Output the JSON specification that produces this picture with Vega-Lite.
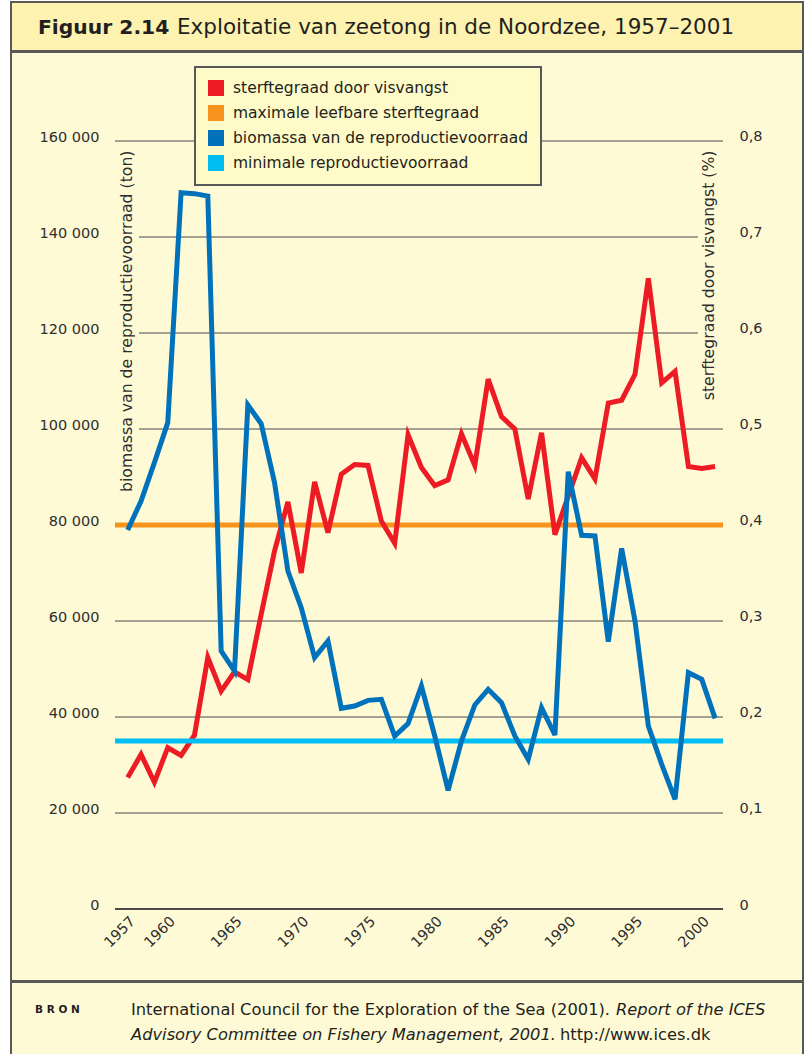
{
  "$schema": "https://vega.github.io/schema/vega-lite/v6.json",
  "background": "#ffffff",
  "padding": {"left": 10, "top": 1, "right": 3, "bottom": 0},
  "spacing": -2,
  "config": {
    "font": "DejaVu Sans",
    "view": {"stroke": null},
    "legend": {"strokeWidth": 2}
  },
  "datasets": {
    "sterfte": [
      {"jaar": 1957, "sterftegraad": 0.137}, {"jaar": 1958, "sterftegraad": 0.161}, {"jaar": 1959, "sterftegraad": 0.132},
      {"jaar": 1960, "sterftegraad": 0.168}, {"jaar": 1961, "sterftegraad": 0.160}, {"jaar": 1962, "sterftegraad": 0.181},
      {"jaar": 1963, "sterftegraad": 0.262}, {"jaar": 1964, "sterftegraad": 0.227}, {"jaar": 1965, "sterftegraad": 0.247},
      {"jaar": 1966, "sterftegraad": 0.239}, {"jaar": 1967, "sterftegraad": 0.307}, {"jaar": 1968, "sterftegraad": 0.373},
      {"jaar": 1969, "sterftegraad": 0.424}, {"jaar": 1970, "sterftegraad": 0.350}, {"jaar": 1971, "sterftegraad": 0.445},
      {"jaar": 1972, "sterftegraad": 0.392}, {"jaar": 1973, "sterftegraad": 0.453}, {"jaar": 1974, "sterftegraad": 0.463},
      {"jaar": 1975, "sterftegraad": 0.462}, {"jaar": 1976, "sterftegraad": 0.404}, {"jaar": 1977, "sterftegraad": 0.381},
      {"jaar": 1978, "sterftegraad": 0.494}, {"jaar": 1979, "sterftegraad": 0.460}, {"jaar": 1980, "sterftegraad": 0.441},
      {"jaar": 1981, "sterftegraad": 0.447}, {"jaar": 1982, "sterftegraad": 0.495}, {"jaar": 1983, "sterftegraad": 0.462},
      {"jaar": 1984, "sterftegraad": 0.552}, {"jaar": 1985, "sterftegraad": 0.513}, {"jaar": 1986, "sterftegraad": 0.500},
      {"jaar": 1987, "sterftegraad": 0.427}, {"jaar": 1988, "sterftegraad": 0.496}, {"jaar": 1989, "sterftegraad": 0.390},
      {"jaar": 1990, "sterftegraad": 0.430}, {"jaar": 1991, "sterftegraad": 0.470}, {"jaar": 1992, "sterftegraad": 0.448},
      {"jaar": 1993, "sterftegraad": 0.527}, {"jaar": 1994, "sterftegraad": 0.530}, {"jaar": 1995, "sterftegraad": 0.557},
      {"jaar": 1996, "sterftegraad": 0.657}, {"jaar": 1997, "sterftegraad": 0.548}, {"jaar": 1998, "sterftegraad": 0.560},
      {"jaar": 1999, "sterftegraad": 0.461}, {"jaar": 2000, "sterftegraad": 0.459}, {"jaar": 2001, "sterftegraad": 0.461}
    ],
    "biomassa": [
      {"jaar": 1957, "biomassa": 78960}, {"jaar": 1958, "biomassa": 85000}, {"jaar": 1959, "biomassa": 92990},
      {"jaar": 1960, "biomassa": 101320}, {"jaar": 1961, "biomassa": 149240}, {"jaar": 1962, "biomassa": 149030},
      {"jaar": 1963, "biomassa": 148540}, {"jaar": 1964, "biomassa": 53750}, {"jaar": 1965, "biomassa": 49580},
      {"jaar": 1966, "biomassa": 105000}, {"jaar": 1967, "biomassa": 101110}, {"jaar": 1968, "biomassa": 88820},
      {"jaar": 1969, "biomassa": 70420}, {"jaar": 1970, "biomassa": 62780}, {"jaar": 1971, "biomassa": 52360},
      {"jaar": 1972, "biomassa": 55830}, {"jaar": 1973, "biomassa": 41810}, {"jaar": 1974, "biomassa": 42290},
      {"jaar": 1975, "biomassa": 43470}, {"jaar": 1976, "biomassa": 43680}, {"jaar": 1977, "biomassa": 36040},
      {"jaar": 1978, "biomassa": 38610}, {"jaar": 1979, "biomassa": 46460}, {"jaar": 1980, "biomassa": 36040},
      {"jaar": 1981, "biomassa": 24720}, {"jaar": 1982, "biomassa": 35000}, {"jaar": 1983, "biomassa": 42500},
      {"jaar": 1984, "biomassa": 45760}, {"jaar": 1985, "biomassa": 42990}, {"jaar": 1986, "biomassa": 36040},
      {"jaar": 1987, "biomassa": 31180}, {"jaar": 1988, "biomassa": 41940}, {"jaar": 1989, "biomassa": 36250},
      {"jaar": 1990, "biomassa": 91110}, {"jaar": 1991, "biomassa": 77850}, {"jaar": 1992, "biomassa": 77710},
      {"jaar": 1993, "biomassa": 55690}, {"jaar": 1994, "biomassa": 75140}, {"jaar": 1995, "biomassa": 60000},
      {"jaar": 1996, "biomassa": 38130}, {"jaar": 1997, "biomassa": 30140}, {"jaar": 1998, "biomassa": 22850},
      {"jaar": 1999, "biomassa": 49240}, {"jaar": 2000, "biomassa": 47850}, {"jaar": 2001, "biomassa": 39720}
    ]
  },
  "vconcat": [
    {
      "width": 792,
      "height": 49,
      "view": {"fill": "#fdf2b0", "stroke": "#585858", "strokeWidth": 2},
      "data": {"values": [{}]},
      "layer": [
        {
          "mark": {"type": "text", "text": "Figuur 2.14", "fontWeight": "bold", "fontSize": 20.3, "align": "left", "baseline": "middle", "dx": -369, "dy": 1, "color": "#231f20"},
          "encoding": {}
        },
        {
          "mark": {"type": "text", "text": "Exploitatie van zeetong in de Noordzee, 1957–2001", "fontSize": 21.5, "align": "left", "baseline": "middle", "dx": -230, "dy": 1, "color": "#231f20"},
          "encoding": {}
        }
      ]
    },
    {
      "width": 792,
      "height": 929,
      "view": {"fill": "#fffad6", "stroke": "#585858", "strokeWidth": 2},
      "data": {"values": [{}]},
      "layer": [
        {
          "layer": [
            {
              "data": {"values": [{"r": 0.1}, {"r": 0.2}, {"r": 0.3}, {"r": 0.4}, {"r": 0.8}]},
              "mark": {"type": "rule", "color": "#86837a", "strokeWidth": 1.5},
              "encoding": {
                "y": {
                  "field": "r", "type": "quantitative",
                  "scale": {"domain": [-0.075, 0.892708], "nice": false, "zero": false},
                  "axis": {
                    "orient": "right", "offset": -64, "zindex": 1,
                    "values": [0, 0.1, 0.2, 0.3, 0.4, 0.5, 0.6, 0.7, 0.8],
                    "labelExpr": "replace(format(datum.value, '.1~f'), '.', ',')",
                    "domain": false, "ticks": false, "tickSize": 0, "grid": false,
                    "labelPadding": 0, "labelFontSize": 14.5, "labelColor": "#2e2e2e",
                    "labelAlign": "left", "labelBaseline": "alphabetic",
                    "title": "sterftegraad door visvangst (%)",
                    "titleFontSize": 15.7, "titleFontWeight": "normal", "titleColor": "#2e2e2e",
                    "titleAngle": -90, "titleAlign": "right", "titleBaseline": "middle",
                    "titleX": -31, "titleY": 98
                  }
                },
                "x": {
                  "datum": 1956.049, "type": "quantitative",
                  "scale": {"domain": [1948.258, 2007.584], "nice": false, "zero": false}
                },
                "x2": {"datum": 2001.592}
              }
            },
            {
              "data": {"values": [{"r": 0.5}]},
              "mark": {"type": "rule", "color": "#86837a", "strokeWidth": 1.5},
              "encoding": {
                "y": {"field": "r", "type": "quantitative"},
                "x": {"datum": 1957.846, "type": "quantitative"},
                "x2": {"datum": 2001.592}
              }
            },
            {
              "data": {"values": [{"r": 0.6}, {"r": 0.7}]},
              "mark": {"type": "rule", "color": "#86837a", "strokeWidth": 1.5},
              "encoding": {
                "y": {"field": "r", "type": "quantitative"},
                "x": {"datum": 1957.846, "type": "quantitative"},
                "x2": {"datum": 1999.719}
              }
            },
            {
              "mark": {"type": "rule", "color": "#4a4a4a", "strokeWidth": 2},
              "encoding": {
                "y": {"datum": 0, "type": "quantitative"},
                "x": {"datum": 1956.049, "type": "quantitative"},
                "x2": {"datum": 2001.592}
              }
            },
            {
              "mark": {"type": "rule", "strokeWidth": 5},
              "encoding": {
                "y": {"datum": 0.4, "type": "quantitative"},
                "x": {"datum": 1956.049, "type": "quantitative"},
                "x2": {"datum": 2001.592},
                "color": {
                  "datum": "maximale leefbare sterftegraad", "type": "nominal",
                  "scale": {
                    "domain": ["sterftegraad door visvangst", "maximale leefbare sterftegraad", "biomassa van de reproductievoorraad", "minimale reproductievoorraad"],
                    "range": ["#ed1c24", "#f7941d", "#0072bc", "#00bdf2"]
                  },
                  "legend": {
                    "orient": "none", "legendX": 184, "legendY": 65,
                    "title": null,
                    "fillColor": "#fffbc8", "strokeColor": "#585858",
                    "padding": 13,
                    "symbolType": "square", "symbolSize": 256, "symbolStrokeWidth": 0, "symbolOpacity": 1,
                    "labelFontSize": 15.5, "labelColor": "#231f20", "labelOffset": 9, "labelLimit": 500,
                    "rowPadding": 8,
                    "encode": {
                      "symbols": {"update": {"fill": {"scale": "color", "field": "value"}, "fillOpacity": {"value": 1}, "strokeWidth": {"value": 0}, "shape": {"value": "square"}, "size": {"value": 256}, "opacity": {"value": 1}}},
                      "legend": {"update": {"strokeWidth": {"value": 2}}}
                    }
                  }
                }
              }
            },
            {
              "data": {"name": "sterfte"},
              "mark": {"type": "line", "strokeWidth": 5},
              "encoding": {
                "x": {
                  "field": "jaar", "type": "quantitative",
                  "axis": {
                    "orient": "bottom", "offset": -72, "zindex": 1,
                    "values": [1957, 1960, 1965, 1970, 1975, 1980, 1985, 1990, 1995, 2000],
                    "format": "d", "labelAngle": -45, "labelAlign": "right", "labelBaseline": "top",
                    "labelPadding": 5, "labelFontSize": 14.5, "labelColor": "#2e2e2e",
                    "domain": false, "ticks": false, "tickSize": 0, "grid": false, "title": null,
                    "labelOverlap": false, "labelFlush": false, "labelBound": false
                  }
                },
                "y": {"field": "sterftegraad", "type": "quantitative"},
                "color": {"datum": "sterftegraad door visvangst", "type": "nominal"}
              }
            }
          ]
        },
        {
          "layer": [
            {
              "mark": {"type": "rule", "strokeWidth": 5},
              "encoding": {
                "y": {
                  "datum": 35000, "type": "quantitative",
                  "scale": {"domain": [-15000, 178541.67], "nice": false, "zero": false},
                  "axis": {
                    "orient": "left", "offset": -88, "zindex": 1,
                    "values": [0, 20000, 40000, 60000, 80000, 100000, 120000, 140000, 160000],
                    "labelExpr": "replace(format(datum.value, ','), ',', ' ')",
                    "domain": false, "ticks": false, "tickSize": 0, "grid": false,
                    "labelPadding": 0, "labelFontSize": 14.5, "labelColor": "#2e2e2e",
                    "labelAlign": "right", "labelBaseline": "alphabetic",
                    "title": "biomassa van de reproductievoorraad (ton)",
                    "titleFontSize": 15.7, "titleFontWeight": "normal", "titleColor": "#2e2e2e",
                    "titleAngle": -90, "titleAlign": "right", "titleBaseline": "middle",
                    "titleX": 27, "titleY": 98
                  }
                },
                "x": {"datum": 1956.049, "type": "quantitative"},
                "x2": {"datum": 2001.592},
                "color": {"datum": "minimale reproductievoorraad", "type": "nominal"}
              }
            },
            {
              "data": {"name": "biomassa"},
              "mark": {"type": "line", "strokeWidth": 5},
              "encoding": {
                "x": {"field": "jaar", "type": "quantitative"},
                "y": {"field": "biomassa", "type": "quantitative"},
                "color": {"datum": "biomassa van de reproductievoorraad", "type": "nominal"}
              }
            }
          ]
        }
      ],
      "resolve": {"scale": {"y": "independent"}, "axis": {"y": "independent"}}
    },
    {
      "width": 792,
      "height": 73,
      "view": {"fill": "#fffad6", "stroke": "#585858", "strokeWidth": 2},
      "data": {"values": [{}]},
      "layer": [
        {
          "mark": {"type": "text", "text": "B R O N", "fontWeight": "bold", "fontSize": 10.5, "align": "left", "baseline": "middle", "dx": -372, "dy": -8.5, "color": "#231f20"},
          "encoding": {}
        },
        {
          "mark": {"type": "text", "text": "International Council for the Exploration of the Sea (2001).", "fontSize": 16.3, "align": "left", "baseline": "middle", "dx": -276, "dy": -8.5, "color": "#231f20"},
          "encoding": {}
        },
        {
          "mark": {"type": "text", "text": "Report of the ICES", "fontStyle": "italic", "fontSize": 16.3, "align": "left", "baseline": "middle", "dx": 209, "dy": -8.5, "color": "#231f20"},
          "encoding": {}
        },
        {
          "mark": {"type": "text", "text": "Advisory Committee on Fishery Management, 2001.", "fontStyle": "italic", "fontSize": 16.3, "align": "left", "baseline": "middle", "dx": -276, "dy": 16.5, "color": "#231f20"},
          "encoding": {}
        },
        {
          "mark": {"type": "text", "text": "http://www.ices.dk", "fontSize": 16.3, "align": "left", "baseline": "middle", "dx": 153, "dy": 16.5, "color": "#231f20"},
          "encoding": {}
        }
      ]
    }
  ]
}
